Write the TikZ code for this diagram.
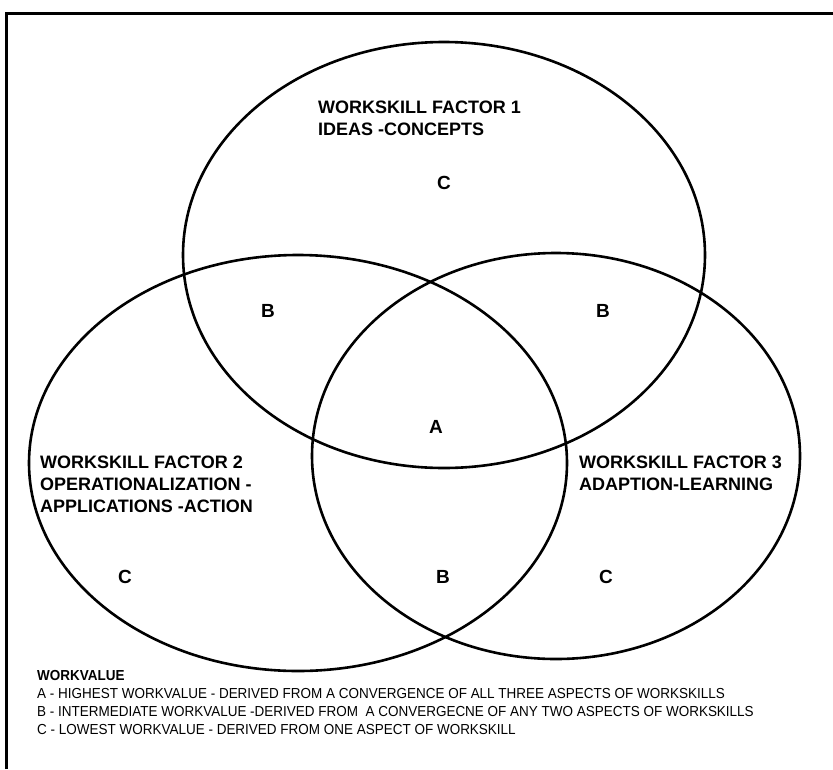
\documentclass[tikz,border=0pt]{standalone}
\usepackage{fontspec}
\setmainfont{Liberation Sans}
\newfontfamily\legendfont{Liberation Sans}[FakeStretch=0.93]
\begin{document}
\begin{tikzpicture}[x=1pt,y=-1pt,
  ring/.style={line width=2.6pt},
  frame/.style={line width=3pt},
  lbl/.style={font=\fontsize{18}{22}\selectfont\bfseries, anchor=base west, inner sep=0pt, align=left},
  zone/.style={font=\fontsize{19}{20}\selectfont\bfseries, inner sep=0pt},
  leg/.style={font=\legendfont\fontsize{14.5}{16}\selectfont, anchor=base west, inner sep=0pt}]
\useasboundingbox (0,0) rectangle (833,769);
% frame
\draw[frame] (6,769) -- (6,13) -- (833,13);
% circles
\draw[ring] (444,255) ellipse [x radius=261, y radius=213];
\draw[ring] (298,463) ellipse [x radius=269, y radius=208];
\draw[ring] (556,456) ellipse [x radius=244, y radius=203];
% factor labels (anchor = baseline of last line)
\node[lbl] (f1) at (318,135) {WORKSKILL FACTOR 1\\IDEAS -CONCEPTS};
\node[lbl] (f2) at (40,512) {WORKSKILL FACTOR 2\\OPERATIONALIZATION -\\APPLICATIONS -ACTION};
\node[lbl] (f3) at (579,490) {WORKSKILL FACTOR 3\\ADAPTION-LEARNING};
% zone letters
\node[zone] (c1) at (444,183) {C};
\node[zone] (b1) at (268,311) {B};
\node[zone] (b2) at (603,311) {B};
\node[zone] (a) at (436,427) {A};
\node[zone] (c2) at (125,577) {C};
\node[zone] (b3) at (443,577) {B};
\node[zone] (c3) at (606,577) {C};
% legend
\node[leg, font=\legendfont\fontsize{14.5}{16}\selectfont\bfseries] (lt) at (37,680) {WORKVALUE};
\node[leg] (la) at (37,698) {A - HIGHEST WORKVALUE - DERIVED FROM A CONVERGENCE OF ALL THREE ASPECTS OF WORKSKILLS};
\node[leg] (lb) at (37,716) {B - INTERMEDIATE WORKVALUE -DERIVED FROM\ \ A CONVERGECNE OF ANY TWO ASPECTS OF WORKSKILLS};
\node[leg] (lc) at (37,734) {C - LOWEST WORKVALUE - DERIVED FROM ONE ASPECT OF WORKSKILL};
\end{tikzpicture}
\end{document}
